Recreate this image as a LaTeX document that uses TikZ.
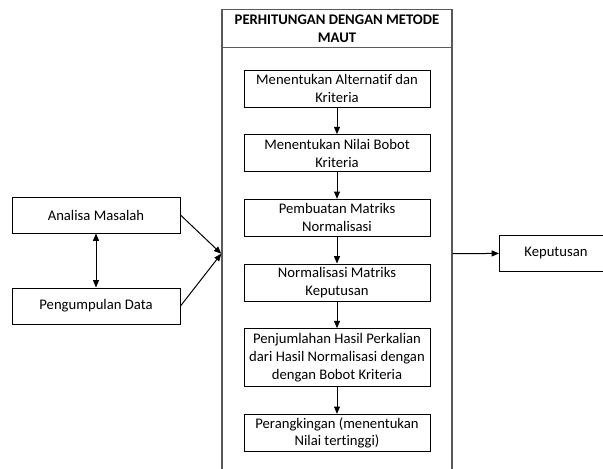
\documentclass[tikz,border=0pt]{standalone}
\usepackage{fontspec}
\setmainfont{Carlito}[Ligatures=NoCommon]
\usetikzlibrary{positioning,arrows.meta}

\begin{document}
\begin{tikzpicture}[x=0.75pt, y=-0.75pt, node distance=20pt,
    every node/.style={font=\fontsize{11}{13.4}\selectfont},
    kotak/.style={draw, line width=0.75pt, align=center, inner sep=2pt, minimum width=139.5pt, minimum height=27.75pt},
    samping/.style={draw, line width=0.75pt, align=center, minimum width=126pt, minimum height=27pt},
    bingkai/.style={draw=black!65, line width=1.1pt, minimum width=172.5pt},
    panah/.style={-{Triangle[length=5.5pt,width=4.5pt]}, line width=0.75pt},
    panahdua/.style={{Triangle[length=5.5pt,width=4.5pt]}-{Triangle[length=5.5pt,width=4.5pt]}, line width=0.75pt}]

    \useasboundingbox (0,0) rectangle (603,468);

    \node[bingkai, anchor=north, minimum height=366pt] (wadah) at (337,9) {};
    \node[bingkai, anchor=north, minimum height=28.5pt, align=center, font=\fontsize{11}{13.4}\selectfont\bfseries] (judul) at (wadah.north) {PERHITUNGAN DENGAN METODE\\MAUT};

    \node[kotak] (alternatif) at (337,88.5) {Menentukan Alternatif dan\\Kriteria};
    \node[kotak] (bobot) [below=of alternatif] {Menentukan Nilai Bobot\\Kriteria};
    \node[kotak] (matriks) [below=of bobot] {Pembuatan Matriks\\Normalisasi};
    \node[kotak] (normalisasi) [below=of matriks] {Normalisasi Matriks\\Keputusan};
    \node[kotak, minimum height=43.5pt] (penjumlahan) [below=of normalisasi] {Penjumlahan Hasil Perkalian\\dari Hasil Normalisasi dengan\\dengan Bobot Kriteria};
    \node[kotak] (rangking) [below=of penjumlahan] {Perangkingan (menentukan\\Nilai tertinggi)};

    \node[samping] (analisa) at (96,215) {Analisa Masalah};
    \node[samping] (data) [below=40.5pt of analisa] {Pengumpulan Data};
    \node[samping, minimum width=84.75pt, anchor=west] (keputusan) at (499,253) {Keputusan};

    \path[panah]
        (alternatif) edge (bobot)
        (bobot) edge (matriks)
        (matriks) edge (normalisasi)
        (normalisasi) edge (penjumlahan)
        (penjumlahan) edge (rangking)
        (analisa.east) edge (wadah.west)
        (data.east) edge (wadah.west)
        (wadah.east) edge (keputusan);

    \draw[panahdua] (analisa) -- (data);

\end{tikzpicture}
\end{document}
